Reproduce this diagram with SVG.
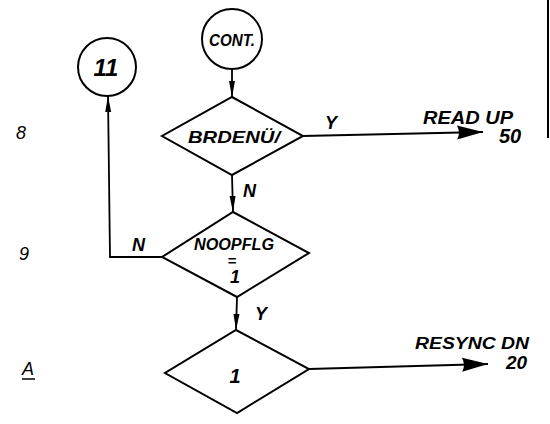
<svg xmlns="http://www.w3.org/2000/svg" width="550" height="424" viewBox="0 0 550 424">
<style>
.shape{fill:#fff;stroke:#000;stroke-width:2}
.line{fill:none;stroke:#000;stroke-width:1.8}
.t{font-family:"Liberation Sans",Arial,sans-serif;font-style:italic;font-weight:bold;fill:#000}
.r{font-family:"Liberation Sans",Arial,sans-serif;font-style:italic;fill:#000}
.m{text-anchor:middle}
</style>
<defs>
<marker id="vh" markerUnits="userSpaceOnUse" markerWidth="18" markerHeight="10" refX="16" refY="4" orient="auto">
<path d="M0,1 L16,4 L0,7 Z" fill="#000"/>
</marker>
<marker id="bh" markerUnits="userSpaceOnUse" markerWidth="28" markerHeight="18" refX="26" refY="8" orient="auto">
<path d="M0,1 Q4,8 0,15 L26,8 Z" fill="#000"/>
</marker>
</defs>
<rect width="550" height="424" fill="#fff"/>
<line x1="548" y1="0" x2="548" y2="138" stroke="#000" stroke-width="2"/>
<g id="connectors">
<line class="line" x1="232" y1="69" x2="232" y2="97" marker-end="url(#vh)"/>
<line class="line" x1="232" y1="175" x2="233" y2="212" marker-end="url(#vh)"/>
<line class="line" x1="237" y1="297" x2="236" y2="330" marker-end="url(#vh)"/>
<polyline class="line" points="162,257 110,257 108,96" marker-end="url(#vh)"/>
<line class="line" x1="303" y1="136" x2="483" y2="132" marker-end="url(#bh)"/>
<line class="line" x1="309" y1="369" x2="488" y2="364" marker-end="url(#bh)"/>
<text class="t" style="font-size:18px" x="325" y="129">Y</text>
<text class="t" style="font-size:18px" x="243" y="197">N</text>
<text class="t" style="font-size:18px" x="132" y="251">N</text>
<text class="t" style="font-size:18px" x="255" y="320">Y</text>
<text class="t" style="font-size:18px" x="423" y="124" textLength="90" lengthAdjust="spacingAndGlyphs">READ UP</text>
<text class="t" style="font-size:20px" x="499" y="143">50</text>
<text class="t" style="font-size:16px" x="415" y="349" textLength="114" lengthAdjust="spacingAndGlyphs">RESYNC DN</text>
<text class="t" style="font-size:19px" x="506" y="369">20</text>
</g>
<g id="cont">
<circle class="shape" cx="232" cy="39" r="30"/>
<text class="t m" style="font-size:16px" x="232" y="46" textLength="46" lengthAdjust="spacingAndGlyphs">CONT.</text>
</g>
<g id="c11">
<circle class="shape" cx="107" cy="67" r="29"/>
<text class="t m" style="font-size:24px" x="106" y="76">11</text>
</g>
<g id="brdenu">
<polygon class="shape" points="232,97 303,136 232,175 162,136"/>
<text class="t m" style="font-size:17px" x="234" y="143" textLength="92" lengthAdjust="spacingAndGlyphs">BRDENÜ/</text>
</g>
<g id="noopflg">
<polygon class="shape" points="233,212 309,253 237,297 162,257"/>
<text class="t m" style="font-size:16px" x="234" y="250" textLength="80" lengthAdjust="spacingAndGlyphs">NOOPFLG</text>
<text class="t m" style="font-size:15px" x="232" y="266">=</text>
<text class="t m" style="font-size:18px" x="235" y="283">1</text>
</g>
<g id="d1">
<polygon class="shape" points="236,330 309,369 237,413 165,373"/>
<text class="t m" style="font-size:20px" x="235" y="383">1</text>
</g>
<g id="rows">
<text class="r" style="font-size:18px" x="16" y="139">8</text>
<text class="r" style="font-size:18px" x="19" y="260">9</text>
<text class="r" style="font-size:18px" x="22" y="375">A</text>
<line x1="22" y1="379" x2="35" y2="379" stroke="#000" stroke-width="1.5"/>
</g>
</svg>
